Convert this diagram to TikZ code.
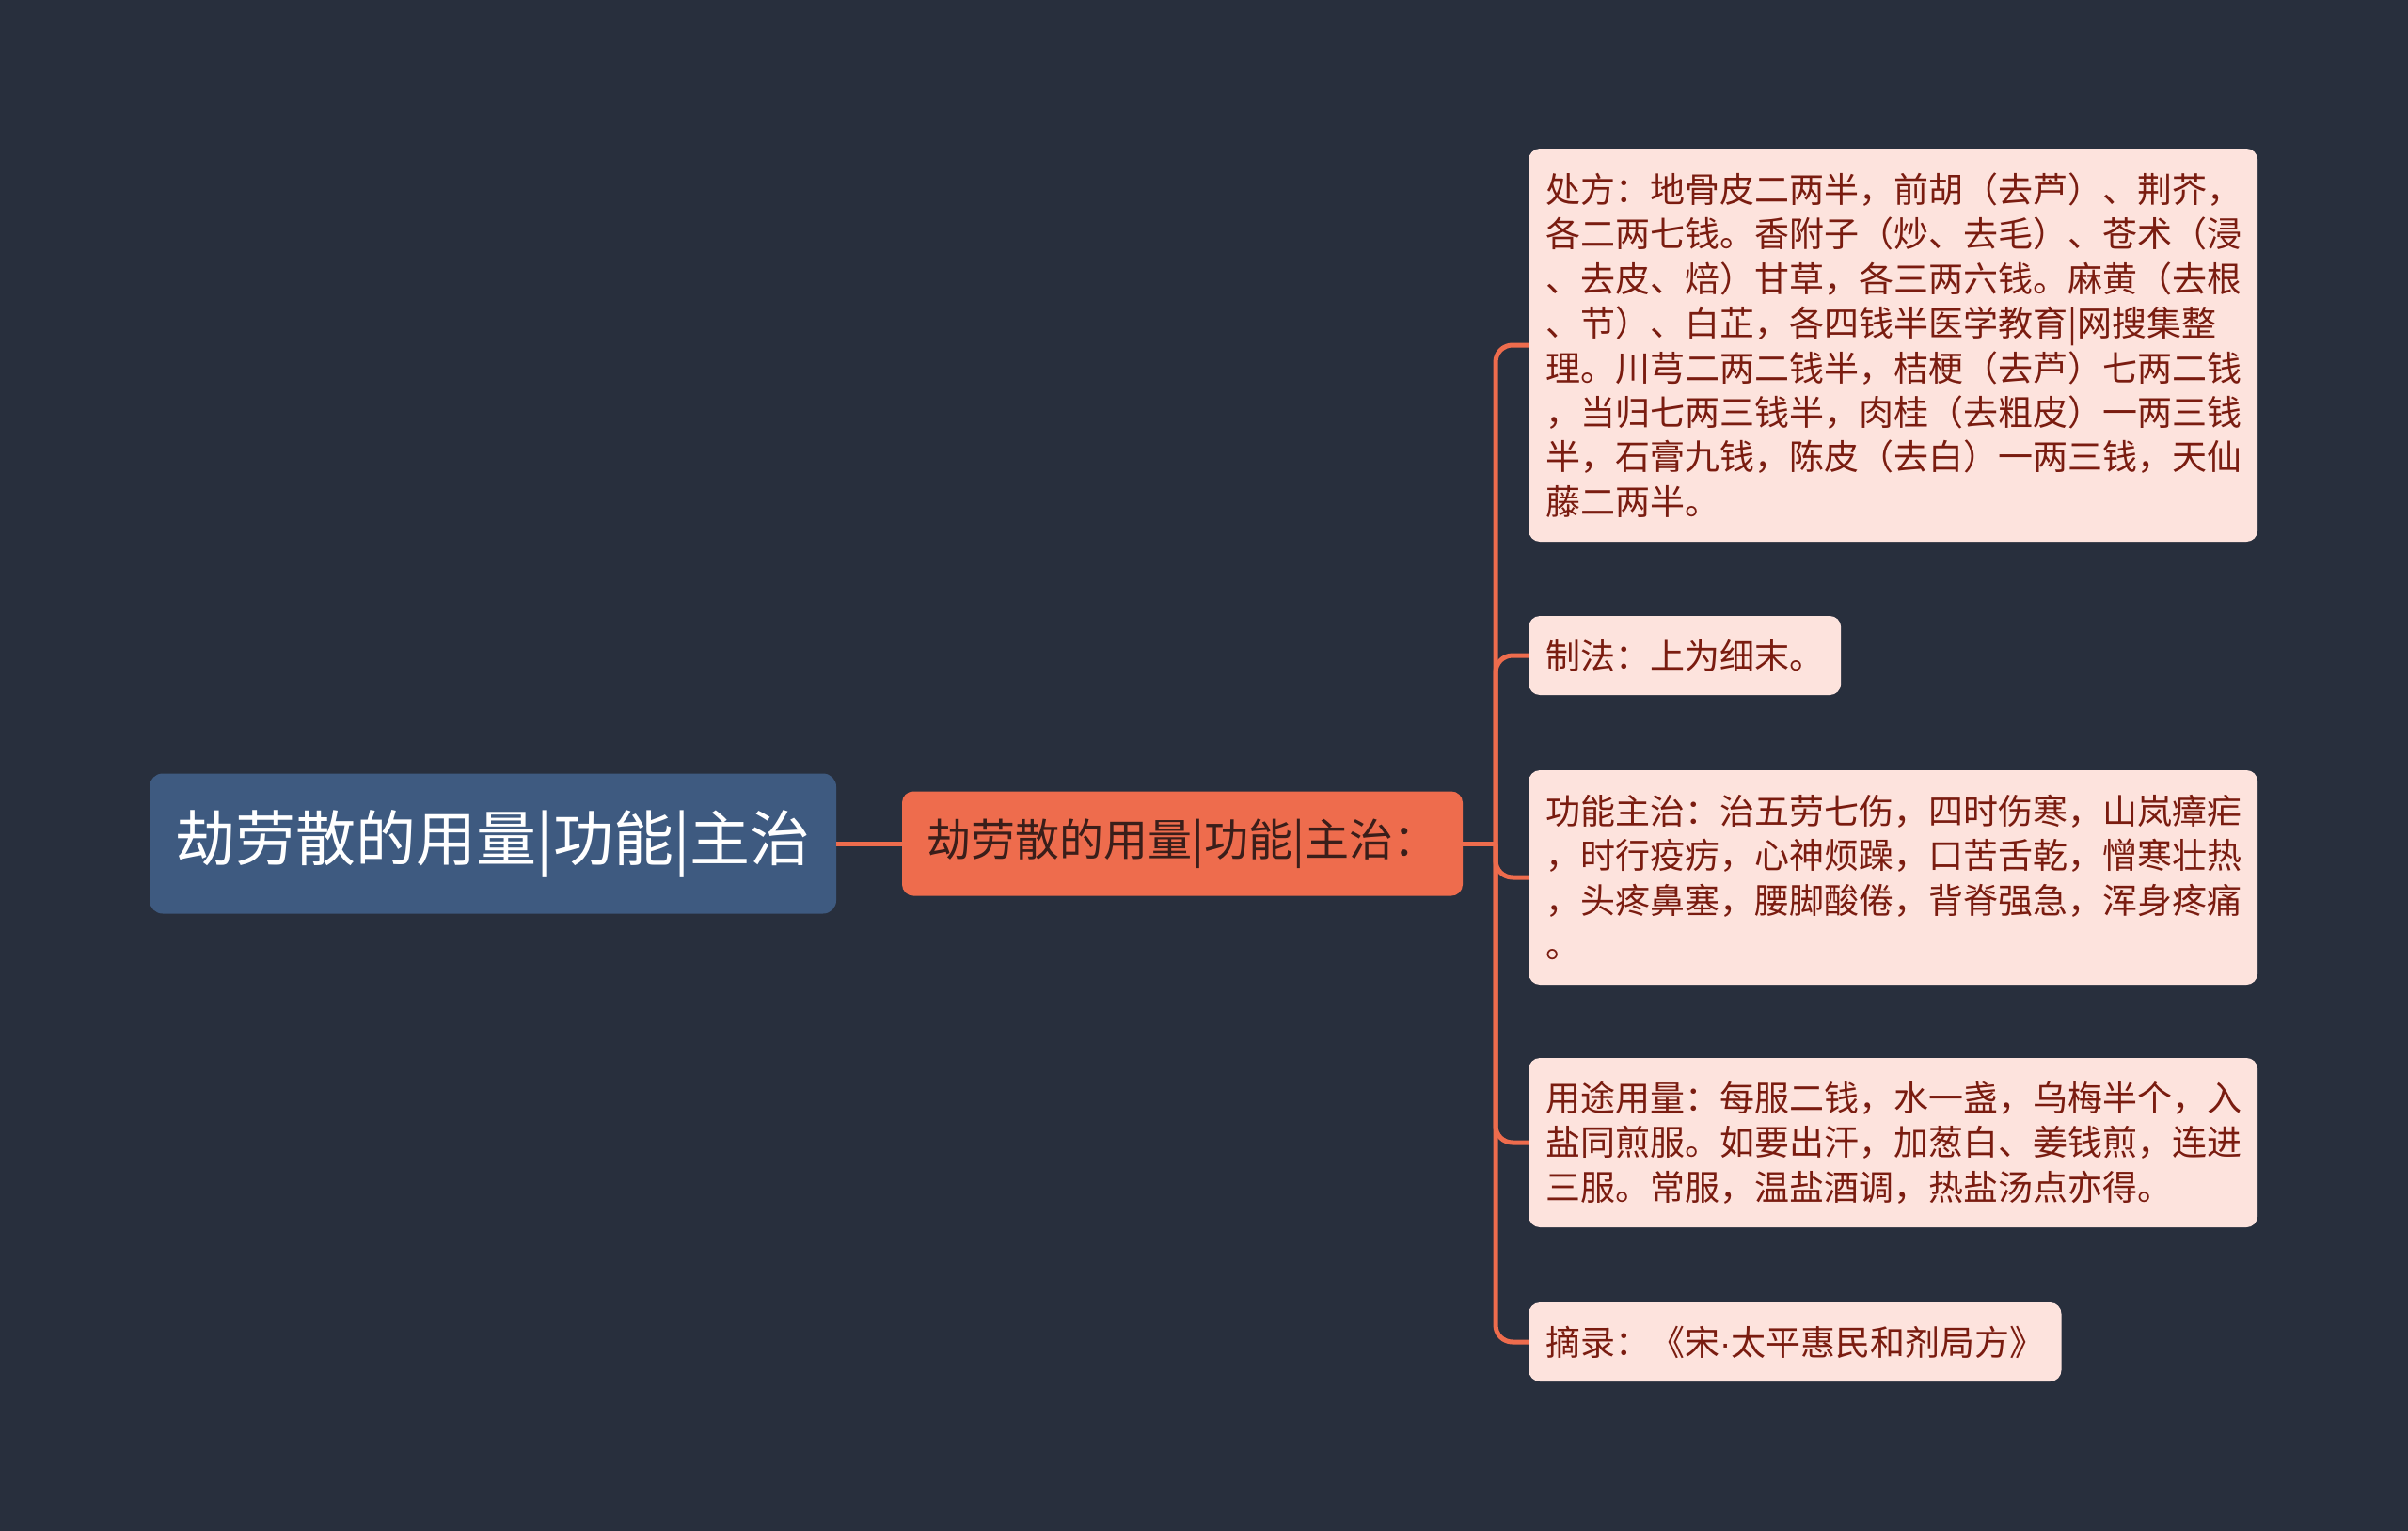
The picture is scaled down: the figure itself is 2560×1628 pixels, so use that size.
\documentclass[tikz,border=0pt]{standalone}
\usepackage{fontspec}
\newfontfamily\cjk{Noto Sans CJK SC}
\newfontfamily\latinf{Liberation Sans}
\definecolor{bgc}{HTML}{282F3D}
\definecolor{rootc}{HTML}{3E5A80}
\definecolor{orangec}{HTML}{EE6C4D}
\definecolor{midtext}{HTML}{3A1E1A}
\definecolor{leafc}{HTML}{FDE3DD}
\definecolor{leaftext}{HTML}{7A1C10}
\begin{document}
\begin{tikzpicture}[x=1pt,y=-1pt,
  rootbox/.style={fill=rootc, rounded corners=14, text=white, font=\cjk\fontsize{64}{76}\selectfont, minimum width=730, minimum height=149, inner sep=0},
  midbox/.style={fill=orangec, rounded corners=12, text=midtext, font=\cjk\fontsize{47}{56}\selectfont, minimum width=596, minimum height=111, inner sep=0},
  leafbox/.style={fill=leafc, rounded corners=12, text=leaftext, font=\cjk\fontsize{37}{47.4}\selectfont, inner xsep=18, inner ysep=0, anchor=west, align=left},
  widebox/.style={leafbox, text width=739},
  conn/.style={draw=orangec, line width=5}]
\fill[bgc] (0,0) rectangle (2560,1628);
\useasboundingbox (0,0) rectangle (2560,1628);
\node[rootbox] (root) at (524,897) {劫劳散的用量|功能|主治};
\node[midbox] (mid) at (1257,897) {劫劳散的用量|功能|主治：};
\node[widebox, minimum height=418] (l1) at (1625,367) {处方：地骨皮二两半，前胡（去芦）、荆芥，\\各二两七钱。香附子（炒、去毛）、苍术（浸\\、去皮、焙）甘草，各三两六钱。麻黄（去根\\、节）、白芷，各四钱半医学教育|网搜集整\\理。川芎二两二钱半，桔梗（去芦）七两二钱\\，当归七两三钱半，肉桂（去粗皮）一两三钱\\半，石膏九钱，陈皮（去白）一两三钱，天仙\\藤二两半。};
\node[leafbox, minimum height=84] (l2) at (1625,697) {制法：上为细末。};
\node[widebox, minimum height=228] (l3) at (1625,933) {功能主治：治五劳七伤，四时伤寒，山岚瘴疟\\，时行疫疠，心神烦躁，口苦舌乾，憎寒壮热\\，头疼鼻塞，腰脚酸倦，背脊强急，浑身疼痛\\。};
\node[widebox, minimum height=180] (l4) at (1625,1215) {用途用量：每服二钱，水一盏，乌梅半个，入\\盐同煎服。如要出汗，加葱白、姜钱煎，连进\\三服。常服，温盐酒调，热盐汤点亦得。};
\node[leafbox, minimum height=84] (l5) at (1625,1427) {摘录：《宋{\latinf ·}太平惠民和剂局方》};
\coordinate (j) at (1590,897);
\draw[conn] (root.east) -- (mid.west);
\draw[conn] (mid.east) -- (j);
\foreach \n in {l1,l2,l3,l4,l5} \draw[conn, rounded corners=18] (j) |- (\n.west);
\end{tikzpicture}
\end{document}
